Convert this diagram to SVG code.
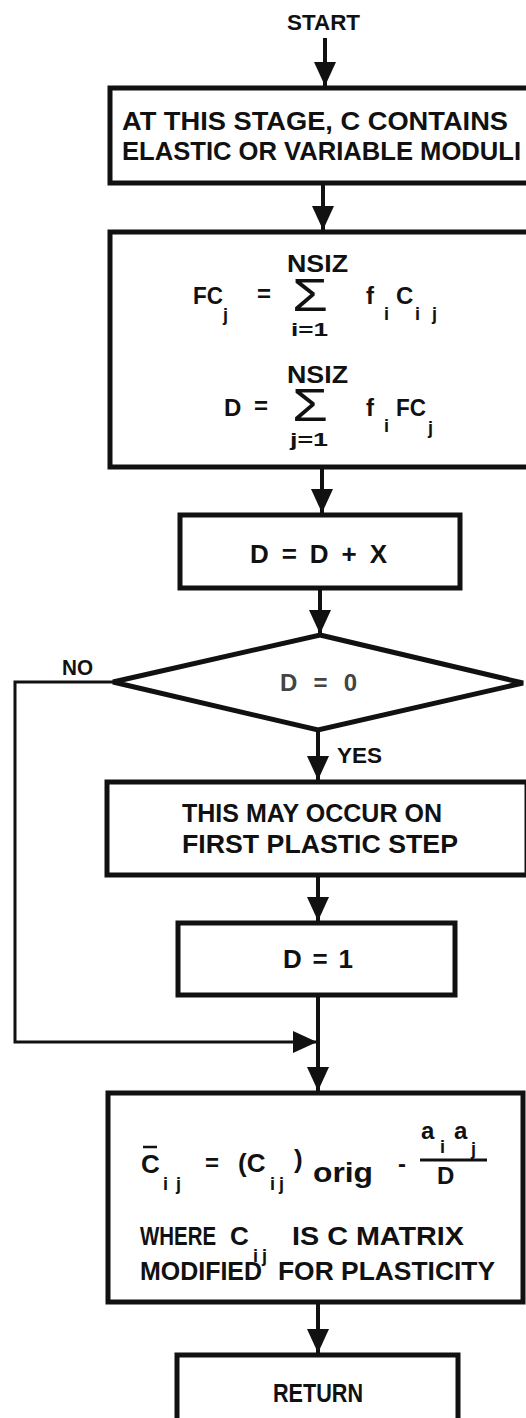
<svg xmlns="http://www.w3.org/2000/svg" width="526" height="1418" viewBox="0 0 526 1418">
<defs>
<style>
.box{fill:#fff;stroke:#111;stroke-width:5}
.ln{fill:none;stroke:#111;stroke-width:4}
.thin{fill:none;stroke:#111;stroke-width:3}
text{font-family:"Liberation Sans",Arial,sans-serif;font-weight:bold;fill:#111}
.t{font-size:26px}
.f{font-size:24px}
.s{font-size:18px}
.lab{font-size:22px}
.sig{font-size:46px;font-weight:normal}
</style>
<marker id="ah" markerUnits="userSpaceOnUse" viewBox="0 -12 24 24" refX="24" refY="0" markerWidth="24" markerHeight="24" orient="auto">
<path d="M0,-11 L24,0 L0,11 z" fill="#111"/>
</marker>
</defs>
<rect width="526" height="1418" fill="#fff"/>

<g id="connectors">
<line class="ln" x1="325" y1="38" x2="325" y2="86" marker-end="url(#ah)"/>
<line class="ln" x1="323" y1="183" x2="323" y2="230" marker-end="url(#ah)"/>
<line class="ln" x1="322" y1="467" x2="322" y2="513" marker-end="url(#ah)"/>
<line class="ln" x1="320" y1="588" x2="320" y2="634" marker-end="url(#ah)"/>
<line class="ln" x1="318" y1="730" x2="318" y2="780" marker-end="url(#ah)"/>
<line class="ln" x1="318" y1="875" x2="318" y2="921" marker-end="url(#ah)"/>
<line class="ln" x1="318" y1="995" x2="318" y2="1091" marker-end="url(#ah)"/>
<polyline class="thin" points="113,682 15,682 15,1042 317,1042" marker-end="url(#ah)"/>
<line class="ln" x1="318" y1="1302" x2="318" y2="1353" marker-end="url(#ah)"/>
<text class="lab" x="62" y="675" textLength="31" lengthAdjust="spacingAndGlyphs">NO</text>
<text class="lab" x="337" y="763" textLength="45" lengthAdjust="spacingAndGlyphs">YES</text>
</g>

<g id="start">
<text class="lab" x="287" y="30" textLength="73" lengthAdjust="spacingAndGlyphs">START</text>
</g>

<g id="n1">
<rect class="box" x="110" y="88" width="425" height="95"/>
<text class="t" x="122" y="130" textLength="386" lengthAdjust="spacingAndGlyphs">AT THIS STAGE, C CONTAINS</text>
<text class="t" x="122" y="160" textLength="399" lengthAdjust="spacingAndGlyphs">ELASTIC OR VARIABLE MODULI</text>
</g>

<g id="n2">
<rect class="box" x="110" y="232" width="425" height="235"/>
<text class="f" x="193" y="304" textLength="30" lengthAdjust="spacingAndGlyphs">FC</text>
<text class="s" x="223" y="321">j</text>
<text class="f" x="257" y="302">=</text>
<text class="f" x="287" y="272" textLength="61" lengthAdjust="spacingAndGlyphs">NSIZ</text>
<text class="sig" x="292" y="311" textLength="36" lengthAdjust="spacingAndGlyphs">Σ</text>
<text class="s" x="291" y="336" textLength="37" lengthAdjust="spacingAndGlyphs">i=1</text>
<text class="f" x="366" y="304">f</text>
<text class="s" x="384" y="320">i</text>
<text class="f" x="396" y="304">C</text>
<text class="s" x="415" y="320" textLength="22" lengthAdjust="spacing">ij</text>

<text class="f" x="224" y="416">D</text>
<text class="f" x="254" y="414">=</text>
<text class="f" x="287" y="383" textLength="61" lengthAdjust="spacingAndGlyphs">NSIZ</text>
<text class="sig" x="292" y="421" textLength="36" lengthAdjust="spacingAndGlyphs">Σ</text>
<text class="s" x="290" y="446" textLength="38" lengthAdjust="spacingAndGlyphs">j=1</text>
<text class="f" x="366" y="416">f</text>
<text class="s" x="384" y="432">i</text>
<text class="f" x="396" y="416" textLength="30" lengthAdjust="spacingAndGlyphs">FC</text>
<text class="s" x="428" y="434">j</text>
</g>

<g id="n3">
<rect class="box" x="180" y="515" width="280" height="73"/>
<text class="t" x="250" y="563" textLength="137" lengthAdjust="spacing">D = D + X</text>
</g>

<g id="n4">
<polygon class="box" points="320,635 523,683 318,730 113,682"/>
<text class="f" x="280" y="691" textLength="77" lengthAdjust="spacing" style="fill:#444">D = 0</text>
</g>

<g id="n5">
<rect class="box" x="107" y="782" width="420" height="93"/>
<text class="t" x="182" y="822" textLength="260" lengthAdjust="spacingAndGlyphs">THIS MAY OCCUR ON</text>
<text class="t" x="182" y="853" textLength="276" lengthAdjust="spacingAndGlyphs">FIRST PLASTIC STEP</text>
</g>

<g id="n6">
<rect class="box" x="178" y="923" width="277" height="72"/>
<text class="t" x="283" y="968" textLength="70" lengthAdjust="spacing">D = 1</text>
</g>

<g id="n7">
<rect class="box" x="108" y="1093" width="415" height="209"/>
<line x1="143" y1="1147" x2="157" y2="1147" stroke="#111" stroke-width="2.5"/>
<text class="t" x="141" y="1173">C</text>
<text class="s" x="163" y="1190" textLength="18" lengthAdjust="spacing">ij</text>
<text class="f" x="205" y="1171">=</text>
<text class="t" x="238" y="1172">(C</text>
<text class="s" x="270" y="1190" textLength="14" lengthAdjust="spacing">ij</text>
<text class="t" x="294" y="1168">)</text>
<text style="font-size:27px" x="313" y="1182" textLength="60" lengthAdjust="spacingAndGlyphs">orig</text>
<text class="f" x="398" y="1172">-</text>
<text class="f" x="421" y="1139">a</text>
<text class="s" x="440" y="1153">i</text>
<text class="f" x="454" y="1139">a</text>
<text class="s" x="471" y="1155">j</text>
<line x1="420" y1="1160" x2="487" y2="1160" stroke="#111" stroke-width="3"/>
<text class="f" x="437" y="1184">D</text>
<text class="t" x="140" y="1245" textLength="76" lengthAdjust="spacingAndGlyphs">WHERE</text>
<text class="t" x="230" y="1245">C</text>
<text class="s" x="253" y="1262" textLength="14" lengthAdjust="spacing">ij</text>
<text class="t" x="292" y="1245" textLength="172" lengthAdjust="spacingAndGlyphs">IS C MATRIX</text>
<text class="t" x="140" y="1280" textLength="122" lengthAdjust="spacingAndGlyphs">MODIFIED</text>
<text class="t" x="278" y="1280" textLength="217" lengthAdjust="spacingAndGlyphs">FOR PLASTICITY</text>
</g>

<g id="n8">
<rect class="box" x="177" y="1355" width="281" height="80"/>
<text class="t" x="273" y="1402" textLength="90" lengthAdjust="spacingAndGlyphs">RETURN</text>
</g>
</svg>
